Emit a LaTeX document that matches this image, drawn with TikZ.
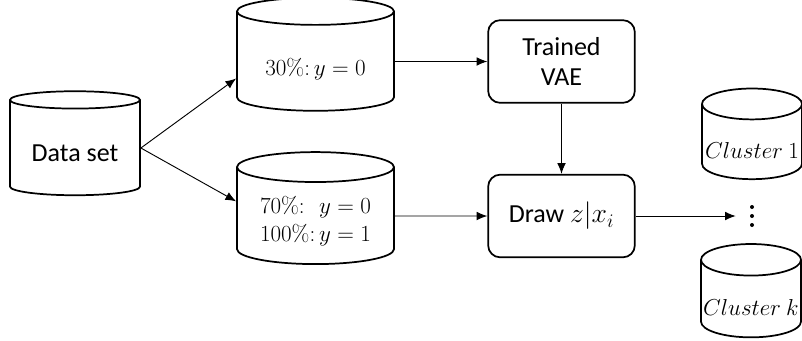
\documentclass[tikz,border=0pt]{standalone}
\usepackage[no-math]{fontspec}
\setmainfont{Carlito}
\usetikzlibrary{arrows.meta,shapes.geometric}

\tikzset{
  store/.style={draw, line width=1.3pt, cylinder, shape border rotate=90, aspect=0.2, inner sep=0pt, align=center},
  stage/.style={draw, line width=1.3pt, rounded corners=9pt, minimum width=110pt, minimum height=62pt, align=center},
  flow/.style={-{Latex[length=8pt,width=6.5pt]}, line width=0.7pt}
}
\newcommand{\mathsize}{\fontsize{17.25}{21}\selectfont}
% push a label down into the body of a cylinder
\newcommand{\sunk}[2]{\raisebox{-#1}[\height][\depth]{#2}}

\begin{document}
\begin{tikzpicture}[x=0.75pt, y=-0.75pt, font=\fontsize{19.5}{22}\selectfont]
	\useasboundingbox (0,0) rectangle (802,340);
	% sources
	\node[store, minimum width=97.5pt, minimum height=78pt] (data) at (75,148) {\sunk{3.75pt}{Data set}};
	\node[store, aspect=0.27, minimum width=117.75pt, minimum height=84.75pt, font=\mathsize] (low) at (315.5,61.5) {\sunk{6pt}{$30\%\colon y=0$}};
	\node[store, aspect=0.27, minimum width=117.75pt, minimum height=84pt, font=\mathsize] (mix) at (315.5,216)
		{\sunk{4.5pt}{\begin{tabular}{@{}l@{}}$70\%\colon\phantom{0}y=0$\\$100\%\colon y=1$\end{tabular}}};
	% model
	\node[stage] (vae) at (561.5,61.5) {Trained\\VAE};
	\node[stage] (sample) at (561.5,216) {Draw $z|x_i$};
	% clusters
	\node[inner sep=0pt, minimum width=24pt, minimum height=16pt] (dots) at (752,216) {};
	\foreach \dy in {-6.75,0,6.75}
		\fill ([yshift=\dy pt]dots.center) circle (1.5pt);
	\node[store, aspect=0.33, minimum width=75pt, minimum height=68pt, font=\mathsize] (cl1) at (752,142) {\sunk{6pt}{$Cluster\ 1$}};
	\node[store, aspect=0.33, minimum width=75pt, minimum height=70pt, font=\mathsize] (clk) at (751,299) {\sunk{6pt}{$Cluster\ k$}};

	\draw[flow] (data.east) -- ([yshift=-12.75pt]low.west);
	\draw[flow] (data.east) -- ([yshift=11pt]mix.west);
	\draw[flow] (low.east) -- (vae.west);
	\draw[flow] (vae.south) -- (sample.north);
	\draw[flow] (mix.east) -- (sample.west);
	\draw[flow] (sample.east) -- (dots.west);
\end{tikzpicture}
\end{document}
